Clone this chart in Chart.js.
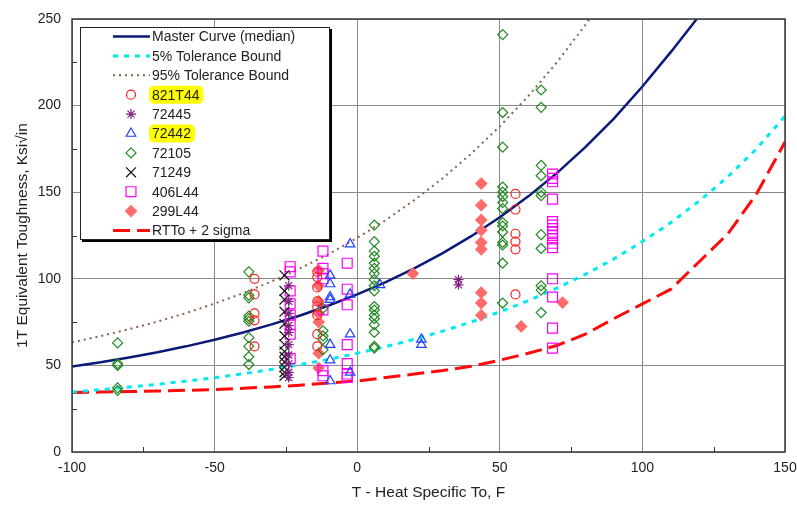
<!DOCTYPE html>
<html>
<head>
<meta charset="utf-8">
<script src="https://cdn.jsdelivr.net/npm/chart.js@4.4.0/dist/chart.umd.min.js"></script>
<style>
    html, body { margin: 0; padding: 0; background: #fff; }
    #wrapper { width: 797px; height: 507px; }
</style>
</head>
<body>
<div id="wrapper"><canvas id="toughness_chart" width="797" height="507"></canvas></div>
<script>
// Curves, every 10 F
const curve_t   = [-100, -90, -80, -70, -60, -50, -40, -30, -20, -10, 0, 10, 20, 30, 40, 50, 60, 70, 80, 90, 100, 110, 120, 130, 140, 150];
const master_k  = [49.4, 51.8, 54.6, 57.6, 61.0, 64.8, 69.0, 73.7, 78.8, 84.6, 91.0, 98.1, 106.0, 114.8, 124.6, 135.5, 147.6, 161.0, 176.0, 192.5, 211.0, 231.0, 252.0, null, null, null];
const tol5_k    = [34.6, 36.0, 37.5, 39.1, 40.9, 42.9, 45.2, 47.7, 50.5, 53.5, 57.0, 60.8, 65.1, 69.8, 75.1, 80.9, 87.4, 94.6, 102.6, 111.5, 121.5, 132.5, 145.0, 159.0, 175.0, 194.0];
const tol95_k   = [63.3, 66.9, 70.9, 75.3, 80.2, 85.7, 91.7, 98.5, 106.0, 114.3, 123.6, 133.9, 145.4, 158.1, 172.3, 188.0, 205.5, 224.9, 246.6, 270.6, null, null, null, null, null, null];
const rtto_k    = [34.4, 34.6, 34.9, 35.2, 35.6, 36.0, 36.8, 37.6, 38.6, 39.8, 41.0, 43.0, 45.0, 47.0, 49.5, 53.0, 57.0, 61.5, 68.0, 77.0, 85.5, 94.0, 110.0, 126.0, 149.0, 179.0];

// Specimen data (T - To in F, K in ksi*sqrt(in))
const t_821T44 = [-36, -36, -36, -36, -36, -14, -14, -14, -14, -14, -14, -14, -14, 55.5, 55.5, 55.5, 55.5, 55.5, 55.5];
const k_821T44 = [100, 91, 80, 76, 61, 104, 101, 95, 87, 84, 79, 68, 61, 149, 140, 126, 121.5, 117, 91];

const t_72445 = [-24, -24, -24, -24, -24, -24, -24, -24, -24, -24, 35.5, 35.5];
const k_72445 = [96, 87, 80, 73, 69, 62, 56, 51, 46, 43, 99.5, 96.5];

const t_72442 = [-9.5, -9.5, -9.5, -9.5, -9.5, -9.5, -9.5, -2.5, -2.5, -2.5, -2.5, 8, 22.5, 22.5];
const k_72442 = [102, 97, 89.5, 88, 62, 53, 41, 120, 91, 68, 46, 96.5, 65, 62];

const t_72105 = [-84, -84, -84, -84, -84,
    -38, -38, -38, -38, -38, -38, -38, -38, -38, -38,
    -12, -12, -12, -12, -12,
    6, 6, 6, 6, 6, 6, 6, 6, 6, 6, 6, 6, 6, 6, 6, 6, 6, 6,
    51, 51, 51, 51, 51, 51, 51, 51, 51, 51, 51, 51, 51, 51, 51,
    64.5, 64.5, 64.5, 64.5, 64.5, 64.5, 64.5, 64.5, 64.5, 64.5, 64.5];
const k_72105 = [63, 51, 50, 37, 35.5,
    104, 90.5, 89, 78.5, 77, 75.5, 66, 61, 55, 50.5,
    83, 70, 67, 65, 59,
    131, 121.5, 116, 113, 109, 106, 103, 99.5, 96, 93, 84, 82, 79, 77, 73.5, 69, 61, 60,
    241, 196, 176, 153, 150, 147.5, 144, 140.5, 132.5, 130.5, 127, 121, 119.5, 109, 86,
    209, 199, 165.5, 159.5, 150, 148, 125.5, 117.5, 96, 93.5, 80.5];

const t_71249 = [-25.5, -25.5, -25.5, -25.5, -25.5, -25.5, -25.5, -25.5, -25.5, -25.5, -25.5, -25.5, -25.5];
const k_71249 = [102, 93, 88, 81, 74, 67, 62, 58, 55, 52, 49, 46, 44];

const t_406L44 = [-23.5, -23.5, -23.5, -23.5, -23.5, -23.5, -23.5, -23.5,
    -12, -12, -12, -12, -12, -12, -12,
    -3.5, -3.5, -3.5, -3.5, -3.5, -3.5, -3.5,
    68.5, 68.5, 68.5, 68.5, 68.5, 68.5, 68.5, 68.5, 68.5, 68.5, 68.5, 68.5, 68.5, 68.5, 68.5, 68.5];
const k_406L44 = [107, 104, 93, 85.5, 79, 73.5, 68, 54,
    116, 106, 103, 100, 82, 47, 44,
    109, 94, 85, 62, 51, 45, 43,
    160.5, 158, 156, 146, 133, 131, 129, 127, 125, 123, 120.5, 118, 100, 89.5, 71.5, 60];

const t_299L44 = [-13.5, -13.5, -13.5, -13.5, -13.5, -13.5, -13.5, 19.5,
    43.5, 43.5, 43.5, 43.5, 43.5, 43.5, 43.5, 43.5, 43.5, 57.5, 72];
const k_299L44 = [105, 96, 87, 80, 75, 57, 48.5, 103,
    155, 142.5, 134, 128, 121, 117, 92, 86, 79, 72.5, 86.3];

// minor tick values (drawn inward)
const minor_x = [-75, -25, 25, 75, 125];
const minor_y = [25, 75, 125, 175, 225];

function pts(xs, ys){
    let out = [];
    for (let i = 0; i < xs.length; i++){
        if (ys[i] !== null) out.push({x: xs[i], y: ys[i]});
    }
    return out;
}

const FONT = "'Liberation Sans', Arial, sans-serif";

function lineSet(label, ys, color, width, dash){
    return {
        label: label, data: pts(curve_t, ys), showLine: true, pointRadius: 0,
        borderColor: color, borderWidth: width, borderDash: dash, fill: false, order: 10
    };
}
function markSet(label, xs, ys, style, radius, color, filled){
    return {
        label: label, data: pts(xs, ys), showLine: false, pointStyle: style, pointRadius: radius,
        borderColor: color, backgroundColor: filled ? color : 'rgba(0,0,0,0)',
        borderWidth: 1.2, order: 1
    };
}

// legend rows: [label, kind, style, color, width/radius, dash, filled, highlight]
const legend_rows = [
    ['Master Curve (median)', 'line', null, '#0b1a78', 2.5, [], false, false],
    ['5% Tolerance Bound', 'line', null, '#00eaf0', 3, [5, 6], false, false],
    ['95% Tolerance Bound', 'line', null, '#8b6247', 2, [2, 4], false, false],
    ['821T44', 'mark', 'circle', '#ff2020', 4.5, null, false, true],
    ['72445', 'mark', 'star', '#7f2080', 5, null, false, false],
    ['72442', 'mark', 'triangle', '#2040ff', 5.5, null, false, true],
    ['72105', 'mark', 'rectRot', '#228822', 5, null, false, false],
    ['71249', 'mark', 'crossRot', '#111111', 7, null, false, false],
    ['406L44', 'mark', 'rect', '#ff00ff', 7, null, false, false],
    ['299L44', 'mark', 'rectRot', '#ff6b6b', 5.5, null, true, false],
    ['RTTo + 2 sigma', 'line', null, '#ff0a0a', 3, [17, 7], false, false]
];

function drawMarker(ctx, shape, x, y, r, color, filled){
    ctx.beginPath();
    ctx.lineWidth = 1.2;
    ctx.strokeStyle = color;
    ctx.fillStyle = color;
    const s = r * Math.SQRT1_2;
    if (shape == 'circle'){
        ctx.arc(x, y, r, 0, Math.PI * 2);
    }
    else if (shape == 'triangle'){
        ctx.moveTo(x, y - r);
        ctx.lineTo(x + r * 0.866, y + r * 0.5);
        ctx.lineTo(x - r * 0.866, y + r * 0.5);
        ctx.closePath();
    }
    else if (shape == 'rectRot'){
        ctx.moveTo(x, y - r); ctx.lineTo(x + r, y); ctx.lineTo(x, y + r); ctx.lineTo(x - r, y);
        ctx.closePath();
    }
    else if (shape == 'rect'){
        ctx.rect(x - s, y - s, 2 * s, 2 * s);
    }
    else if (shape == 'crossRot' || shape == 'star'){
        ctx.moveTo(x - s, y - s); ctx.lineTo(x + s, y + s);
        ctx.moveTo(x - s, y + s); ctx.lineTo(x + s, y - s);
        if (shape == 'star'){
            ctx.moveTo(x, y - r); ctx.lineTo(x, y + r);
            ctx.moveTo(x - r, y); ctx.lineTo(x + r, y);
        }
    }
    if (filled) ctx.fill();
    ctx.stroke();
}

const framePlugin = {
    id: 'frame',
    afterDraw(chart){
        const ctx = chart.ctx;
        const a = chart.chartArea;
        const sx = chart.scales.x, sy = chart.scales.y;
        ctx.save();
        // inward minor ticks
        ctx.strokeStyle = '#333';
        ctx.lineWidth = 1;
        ctx.beginPath();
        minor_x.forEach(function(v){
            let px = Math.round(sx.getPixelForValue(v)) + 0.5;
            ctx.moveTo(px, a.bottom); ctx.lineTo(px, a.bottom - 5);
        });
        minor_y.forEach(function(v){
            let py = Math.round(sy.getPixelForValue(v)) + 0.5;
            ctx.moveTo(a.left, py); ctx.lineTo(a.left + 5, py);
        });
        ctx.stroke();
        // plot frame
        ctx.lineWidth = 1.5;
        ctx.strokeStyle = '#3a3a3a';
        ctx.strokeRect(a.left, a.top, a.right - a.left, a.bottom - a.top);

        // legend box
        const bx = 80, by = 27, bw = 250, bh = 213;
        ctx.fillStyle = '#000';
        ctx.fillRect(bx + 2, by + 2, bw, bh);
        ctx.fillStyle = '#fff';
        ctx.fillRect(bx, by, bw, bh);
        ctx.lineWidth = 1;
        ctx.strokeStyle = '#222';
        ctx.strokeRect(bx + 0.5, by + 0.5, bw - 1, bh - 1);

        ctx.font = '14px ' + FONT;
        ctx.textBaseline = 'middle';
        ctx.textAlign = 'left';
        legend_rows.forEach(function(row, i){
            const y = 36.5 + i * 19.4;
            const tx = 152;
            if (row[7]){
                const w = ctx.measureText(row[0]).width;
                ctx.fillStyle = '#ffff00';
                ctx.beginPath();
                ctx.roundRect(tx - 3, y - 9, w + 7, 18, 5);
                ctx.fill();
            }
            if (row[1] == 'line'){
                ctx.beginPath();
                ctx.setLineDash(row[5]);
                ctx.strokeStyle = row[3];
                ctx.lineWidth = row[4];
                ctx.moveTo(113, y); ctx.lineTo(150, y);
                ctx.stroke();
                ctx.setLineDash([]);
            }
            else {
                drawMarker(ctx, row[2], 131, y, row[4], row[3], row[6]);
            }
            ctx.fillStyle = '#222';
            ctx.fillText(row[0], tx, y + 1);
        });
        ctx.restore();
    }
};

var ctx = document.getElementById('toughness_chart').getContext('2d');

var toughness_chart = new Chart(ctx, {
    type: 'scatter',
    data: {
        datasets: [
            lineSet('Master Curve (median)', master_k, '#0b1a78', 2.5, []),
            lineSet('5% Tolerance Bound', tol5_k, '#00eaf0', 3, [5, 6]),
            lineSet('95% Tolerance Bound', tol95_k, '#8b6247', 2, [2, 4]),
            markSet('821T44', t_821T44, k_821T44, 'circle', 4.5, '#ff2020', false),
            markSet('72445', t_72445, k_72445, 'star', 5, '#7f2080', false),
            markSet('72442', t_72442, k_72442, 'triangle', 5.5, '#2040ff', false),
            markSet('72105', t_72105, k_72105, 'rectRot', 5, '#228822', false),
            markSet('71249', t_71249, k_71249, 'crossRot', 7, '#111111', false),
            markSet('406L44', t_406L44, k_406L44, 'rect', 7, '#ff00ff', false),
            markSet('299L44', t_299L44, k_299L44, 'rectRot', 5.5, '#ff6b6b', true),
            lineSet('RTTo + 2 sigma', rtto_k, '#ff0a0a', 3, [17, 7])
        ]
    },
    options: {
        responsive: false,
        animation: false,
        events: [],
        layout: { padding: { left: 0, right: 12, top: 19, bottom: 0 } },
        plugins: {
            legend: { display: false },
            tooltip: { enabled: false }
        },
        scales: {
            x: {
                type: 'linear', min: -100, max: 150,
                afterFit: function(scale){
                    scale.height = 55;
                    scale.paddingLeft = 0;
                    scale.paddingRight = 0;
                },
                ticks: { stepSize: 50, padding: 8, color: '#222', font: { family: FONT, size: 14 } },
                grid: { color: '#8a8a8a', lineWidth: 1, drawTicks: false },
                border: { display: false },
                title: { display: true, text: 'T - Heat Specific To, F', color: '#222',
                         padding: { top: 0, bottom: 5 }, font: { family: FONT, size: 15.5 } }
            },
            y: {
                type: 'linear', min: 0, max: 250,
                afterFit: function(scale){
                    scale.width = 72;
                    scale.paddingTop = 0;
                    scale.paddingBottom = 0;
                },
                ticks: { stepSize: 50, padding: 11, color: '#222', font: { family: FONT, size: 14 } },
                grid: { color: '#8a8a8a', lineWidth: 1, drawTicks: false },
                border: { display: false },
                title: { display: true, text: '1T Equivalent Toughness, Ksi√in', color: '#222',
                         padding: { top: 13, bottom: 0 }, font: { family: FONT, size: 15.5 } }
            }
        }
    },
    plugins: [framePlugin]
});
</script>
</body>
</html>
